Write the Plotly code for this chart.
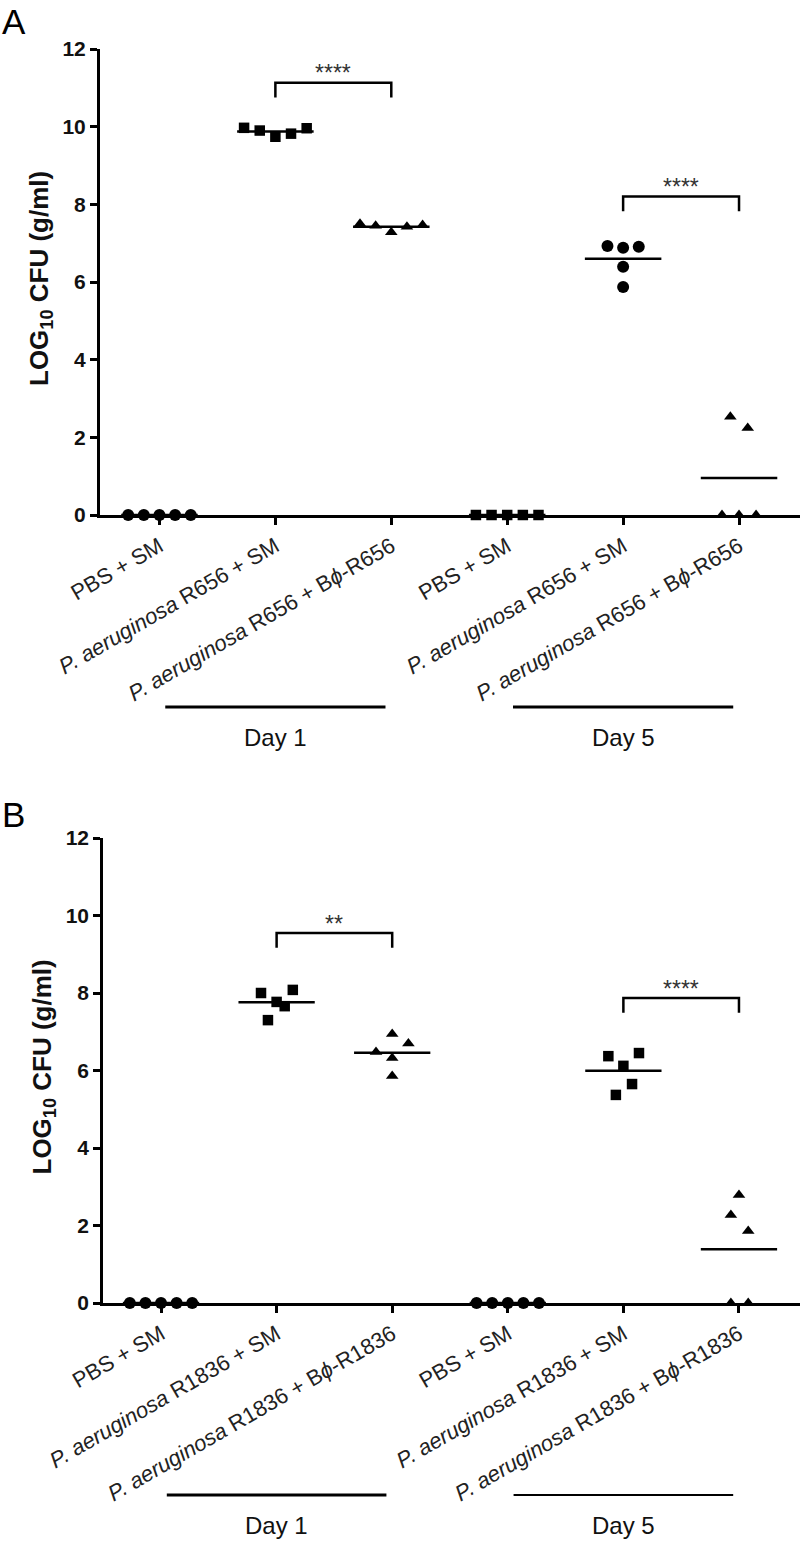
import plotly.graph_objects as go
import numpy as np

FIG_W, FIG_H = 800, 1551
FONT = "Liberation Sans, Arial, sans-serif"

# ---------------- data ----------------
categories_A = [
    "PBS + SM",
    "<i>P. aeruginosa</i> R656 + SM",
    "<i>P. aeruginosa</i> R656 + B<i>ϕ</i>-R656",
    "PBS + SM",
    "<i>P. aeruginosa</i> R656 + SM",
    "<i>P. aeruginosa</i> R656 + B<i>ϕ</i>-R656",
]
categories_B = [
    "PBS + SM",
    "<i>P. aeruginosa</i> R1836 + SM",
    "<i>P. aeruginosa</i> R1836 + B<i>ϕ</i>-R1836",
    "PBS + SM",
    "<i>P. aeruginosa</i> R1836 + SM",
    "<i>P. aeruginosa</i> R1836 + B<i>ϕ</i>-R1836",
]
group_labels = ["Day 1", "Day 5"]
y_ticks = [0, 2, 4, 6, 8, 10, 12]

# Panel A: LOG10 CFU (g/ml)
A_pbs_day1 = [0, 0, 0, 0, 0]
A_pa_day1 = [9.97, 9.90, 9.74, 9.82, 9.96]
A_phage_day1 = [7.50, 7.45, 7.28, 7.42, 7.47]
A_pbs_day5 = [0, 0, 0, 0, 0]
A_pa_day5 = [6.93, 6.88, 6.91, 6.39, 5.87]
A_phage_day5 = [2.53, 2.24, 0, 0, 0]

# Panel B: LOG10 CFU (g/ml)
B_pbs_day1 = [0, 0, 0, 0, 0]
B_pa_day1 = [8.00, 8.08, 7.77, 7.66, 7.30]
B_phage_day1 = [6.48, 6.94, 6.70, 6.32, 5.86]
B_pbs_day5 = [0, 0, 0, 0, 0]
B_pa_day5 = [6.37, 6.45, 6.12, 5.65, 5.37]
B_phage_day5 = [2.79, 2.27, 1.86, 0, 0]

# horizontal scatter spread of points within a column (category units)
spread5 = [-0.27, -0.135, 0, 0.135, 0.27]
A_jitter = [spread5, spread5, spread5, spread5,
            [-0.135, 0, 0.135, 0, 0],
            [-0.075, 0.075, -0.147, 0, 0.147]]
B_jitter = [spread5,
            [-0.135, 0.14, 0, 0.07, -0.075],
            [-0.14, 0, 0.14, 0, 0],
            spread5,
            [-0.13, 0.135, 0, 0.075, -0.065],
            [0, -0.07, 0.08, -0.07, 0.08]]

A_symbols = ["circle", "square", "triangle-up", "square", "circle", "triangle-up"]
B_symbols = ["circle", "square", "triangle-up", "circle", "square", "triangle-up"]

# significance comparisons: (col a, col b, bracket top, stars)
A_sig = [(1, 2, 11.13, "****"), (4, 5, 8.20, "****")]
B_sig = [(1, 2, 9.55, "**"), (4, 5, 7.87, "****")]

# ---------------- layout geometry (pixels) ----------------
panels = [
    dict(name="A", cats=categories_A,
         cols=[A_pbs_day1, A_pa_day1, A_phage_day1, A_pbs_day5, A_pa_day5, A_phage_day5],
         jit=A_jitter, sym=A_symbols, sig=A_sig,
         left=100, top=49, bottom=515, xr=[-0.513, 5.526], lw=3, grp_w=[3, 3],
         title_x=40, letter_top=0),
    dict(name="B", cats=categories_B,
         cols=[B_pbs_day1, B_pa_day1, B_phage_day1, B_pbs_day5, B_pa_day5, B_phage_day5],
         jit=B_jitter, sym=B_symbols, sig=B_sig,
         left=103, top=838, bottom=1303, xr=[-0.502, 5.528], lw=2.5, grp_w=[3, 2],
         title_x=43, letter_top=793),
]

def py(p):
    return (FIG_H - p) / FIG_H

fig = go.Figure()
annotations = []
shapes = []

for i, P in enumerate(panels):
    sfx = "" if i == 0 else str(i + 1)
    xa, ya = "x" + sfx, "y" + sfx

    for c, (vals, jit, sym) in enumerate(zip(P["cols"], P["jit"], P["sym"])):
        size = {"circle": 12, "square": 10.5, "triangle-up": 11}[sym]
        fig.add_trace(go.Scatter(
            x=[c + j for j in jit], y=vals, mode="markers", xaxis=xa, yaxis=ya,
            marker=dict(symbol=sym, size=size, color="black", line=dict(width=0)),
            cliponaxis=False, showlegend=False, hoverinfo="y"))
        m = float(np.mean(vals))
        fig.add_trace(go.Scatter(
            x=[c - 0.33, c + 0.33], y=[m, m], mode="lines", xaxis=xa, yaxis=ya,
            line=dict(color="black", width=2.5), cliponaxis=False,
            showlegend=False, hoverinfo="skip"))

    for a, b, top, stars in P["sig"]:
        drop = 0.38
        fig.add_trace(go.Scatter(
            x=[a, a, b, b], y=[top - drop, top, top, top - drop], mode="lines",
            xaxis=xa, yaxis=ya, line=dict(color="black", width=2.5),
            cliponaxis=False, showlegend=False, hoverinfo="skip"))
        annotations.append(dict(
            x=(a + b) / 2, y=top + 0.42, xref=xa, yref=ya, text=stars,
            showarrow=False, yanchor="middle", yshift=-7,
            font=dict(family=FONT, size=23, color="#333333")))

    # group lines and labels
    for g, lab in enumerate(group_labels):
        c0 = 3 * g
        shapes.append(dict(
            type="line", xref=xa, yref="paper",
            x0=c0 + 0.05, x1=c0 + 1.95, y0=py(P["bottom"] + 192), y1=py(P["bottom"] + 192),
            line=dict(color="black", width=P["grp_w"][g])))
        annotations.append(dict(
            x=c0 + 1, y=py(P["bottom"] + 222), xref=xa, yref="paper", text=lab,
            showarrow=False, xanchor="center", yanchor="middle",
            font=dict(family=FONT, size=24, color="#111111")))

    # y title
    annotations.append(dict(
        x=P["title_x"] / FIG_W, y=py((P["top"] + P["bottom"]) / 2 - 3), xref="paper", yref="paper",
        text="LOG<sub>10</sub> CFU (g/ml)", textangle=-90, showarrow=False,
        xanchor="center", yanchor="middle",
        font=dict(family=FONT, size=26, color="#111111", weight="bold")))
    # panel letter
    annotations.append(dict(
        x=0, y=py(P["letter_top"]), xref="paper", yref="paper", text=P["name"],
        showarrow=False, xanchor="left", yanchor="top", yshift=0,
        font=dict(family=FONT, size=35, color="black")))

    axis_common = dict(showgrid=False, zeroline=False, showline=True, automargin=False,
                       linecolor="black", linewidth=P["lw"], ticks="outside",
                       ticklen=7, tickwidth=P["lw"], tickcolor="black")
    fig.update_layout(**{
        "xaxis" + sfx: dict(
            domain=[P["left"] / FIG_W, 1.0], range=P["xr"], anchor=ya,
            tickmode="array", tickvals=list(range(6)), ticktext=P["cats"],
            tickangle=-30, tickfont=dict(family=FONT, size=22, color="#222222"),
            **axis_common),
        "yaxis" + sfx: dict(
            domain=[py(P["bottom"]), py(P["top"])], range=[0, 12], anchor=xa,
            tickmode="array", tickvals=y_ticks,
            tickfont=dict(family=FONT, size=21, color="#111111", weight="bold"),
            **axis_common),
    })

fig.update_layout(
    width=FIG_W, height=FIG_H,
    margin=dict(l=0, r=0, t=0, b=0, autoexpand=False),
    paper_bgcolor="white", plot_bgcolor="white",
    annotations=annotations, shapes=shapes,
    showlegend=False,
)

fig.write_html("out.html", config={"displayModeBar": False},
               post_script="document.body.style.margin='0px';document.body.style.overflow='hidden';")
